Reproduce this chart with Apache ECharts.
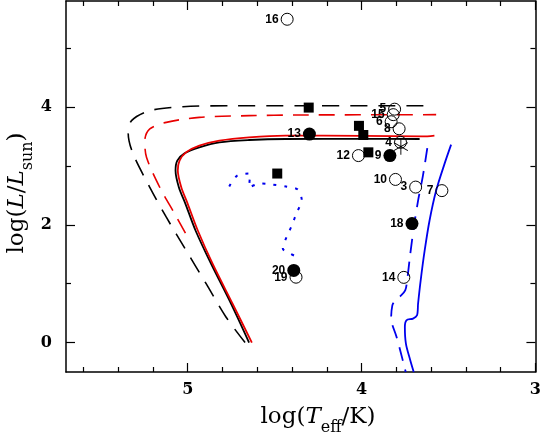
<!DOCTYPE html>
<html><head><meta charset="utf-8">
<script src="https://cdn.jsdelivr.net/npm/echarts@6/dist/echarts.min.js"></script>
<style>html,body{margin:0;padding:0;background:#fff}#c{width:544px;height:437px}</style>
</head><body><div id="c"></div>
<script>
// ---- tick values ----
const xMajor = [3, 4, 5];
const xMinor = [3.2, 3.4, 3.6, 3.8, 4.2, 4.4, 4.6, 4.8, 5.2, 5.4, 5.6];
const yMajor = [0, 2, 4];
const yMinor = [1, 3, 5];

// ---- tracks [logTeff, logL] ----
const trackBlackSolid = [[4.647,0],[4.751,0.661],[4.866,1.339],[4.955,1.903],[5.013,2.356],[5.051,2.637],[5.070,2.920],[5.060,3.090],[5.018,3.214],[4.933,3.316],[4.818,3.401],[4.647,3.440],[4.437,3.457],[4.0,3.458],[3.666,3.457]];
const trackRedSolid = [[4.631,0],[4.742,0.661],[4.857,1.339],[4.942,1.903],[5.0,2.356],[5.037,2.637],[5.057,2.920],[5.047,3.090],[5.009,3.231],[4.933,3.344],[4.818,3.429],[4.647,3.485],[4.437,3.514],[4.0,3.51],[3.65,3.50],[3.581,3.515]];
const trackBlackDashed = [[4.670,0],[4.780,0.434],[4.894,1.0],[5.009,1.564],[5.123,2.129],[5.218,2.637],[5.314,3.203],[5.342,3.542],[5.323,3.768],[5.218,3.937],[5.028,4.005],[4.742,4.022],[4.361,4.022],[3.637,4.022]];
const trackRedDashed = [[5.013,1.858],[5.075,2.186],[5.161,2.637],[5.237,3.146],[5.247,3.429],[5.218,3.627],[5.123,3.739],[4.933,3.824],[4.647,3.853],[4.361,3.864],[3.571,3.87]];
const trackBlueSolid = [[3.485,3.361],[3.523,3.034],[3.571,2.581],[3.609,2.073],[3.637,1.564],[3.660,1.056],[3.675,0.661],[3.681,0.463],[3.704,0.407],[3.742,0.378],[3.751,0.264],[3.745,-0.017],[3.720,-0.3],[3.700,-0.5]];
const trackBlueDashed = [[3.622,3.30],[3.647,2.836],[3.675,2.41],[3.698,1.988],[3.721,1.479],[3.738,1.056],[3.749,0.886],[3.778,0.785],[3.809,0.705],[3.823,0.632],[3.830,0.412],[3.800,0.107],[3.778,-0.13],[3.746,-0.5]];
const trackBlueDotted = [[4.761,2.649],[4.715,2.836],[4.641,2.870],[4.647,2.632],[4.584,2.700],[4.515,2.683],[4.435,2.649],[4.367,2.598],[4.344,2.412],[4.373,2.208],[4.401,1.988],[4.430,1.802],[4.453,1.598],[4.413,1.514],[4.350,1.429]];

// ---- stars [label, logTeff, logL] ----
const openStars = [['16',4.428,5.49],['5',3.810,3.963],['15',3.818,3.87],['6',3.830,3.75],['8',3.784,3.63],['4',3.776,3.40],['12',4.018,3.175],['10',3.805,2.77],['3',3.689,2.64],['7',3.538,2.58],['14',3.757,1.107],['19',4.377,1.11]];
const filledStars = [['13',4.30,3.54],['9',3.837,3.175],['18',3.710,2.02],['20',4.39,1.225]];
const squareStars = [[4.304,3.99],[4.015,3.68],[3.99,3.525],[3.961,3.23],[4.485,2.87]];
const asteriskStars = [[3.774,3.327]];

const serif = 'DejaVu Serif';
const sans = 'Liberation Sans';
const RED = '#e80000';
const BLUE = '#0000ee';

function xAxisDef(pos, ticks, len, showLine, showLabel) {
  return {
    type: 'value', min: 3, max: 5.7, inverse: true, position: pos,
    axisLine: { show: showLine, onZero: false, lineStyle: { color: '#000', width: 1.5 } },
    axisTick: { show: true, inside: true, length: len, customValues: ticks, lineStyle: { color: '#000', width: 1.2 } },
    axisLabel: { show: showLabel, customValues: ticks, margin: 10, fontFamily: serif, fontSize: 16, fontWeight: 'bold', color: '#000' },
    splitLine: { show: false }
  };
}
function yAxisDef(pos, ticks, len, showLine, showLabel) {
  return {
    type: 'value', min: -0.5, max: 5.8, position: pos,
    axisLine: { show: showLine, onZero: false, lineStyle: { color: '#000', width: 1.5 } },
    axisTick: { show: true, inside: true, length: len, customValues: ticks, lineStyle: { color: '#000', width: 1.2 } },
    axisLabel: { show: showLabel, customValues: ticks, margin: 14, fontFamily: serif, fontSize: 16, fontWeight: 'bold', color: '#000' },
    splitLine: { show: false }
  };
}

function lineSeries(data, color, width, type, z) {
  return {
    type: 'line', data: data, xAxisIndex: 0, yAxisIndex: 0,
    symbol: 'none', showSymbol: false, smooth: 0.3, z: z || 2,
    lineStyle: { color: color, width: width, type: type, opacity: 1 }
  };
}

const labelStyle = { show: true, position: 'left', distance: 2, formatter: '{b}', fontFamily: sans, fontWeight: 'bold', fontSize: 12, color: '#000', opacity: 1 };

const titleRich = {
  n: { fontFamily: serif, fontSize: 23, lineHeight: 38, fill: '#000' },
  i: { fontFamily: serif, fontStyle: 'italic', fontSize: 23, lineHeight: 38, fill: '#000' },
  s: { fontFamily: serif, fontSize: 16, lineHeight: 17, padding: [21, 0, 0, 0], fill: '#000' }
};

const option = {
  animation: false,
  backgroundColor: '#fff',
  grid: { left: 66, right: 6, top: 1, bottom: 65 },
  xAxis: [
    xAxisDef('bottom', xMajor, 9, true, true),
    xAxisDef('bottom', xMinor, 5, false, false),
    xAxisDef('top', xMajor, 9, true, false),
    xAxisDef('top', xMinor, 5, false, false)
  ],
  yAxis: [
    yAxisDef('left', yMajor, 9, true, true),
    yAxisDef('left', yMinor, 5, false, false),
    yAxisDef('right', yMajor, 9, true, false),
    yAxisDef('right', yMinor, 5, false, false)
  ],
  series: [
    lineSeries(trackBlackDashed, '#000', 1.6, [17, 11]),
    lineSeries(trackRedDashed, RED, 1.6, [16, 10]),
    lineSeries(trackBlackSolid, '#000', 1.8, 'solid'),
    lineSeries(trackRedSolid, RED, 1.8, 'solid'),
    lineSeries(trackBlueSolid, BLUE, 1.8, 'solid'),
    lineSeries(trackBlueDashed, BLUE, 1.8, [14, 9]),
    lineSeries(trackBlueDotted, BLUE, 2, [3, 8]),
    {
      type: 'scatter', z: 5, symbol: 'rect', symbolSize: 10,
      itemStyle: { color: '#000', opacity: 1 },
      data: squareStars
    },
    {
      type: 'scatter', z: 5, symbol: 'circle', symbolSize: 13,
      itemStyle: { color: '#000', opacity: 1 },
      label: labelStyle,
      data: filledStars.map(d => ({ name: d[0], value: [d[1], d[2]] }))
    },
    {
      type: 'scatter', z: 5, symbol: 'circle', symbolSize: 12,
      itemStyle: { color: 'rgba(255,255,255,0)', borderColor: '#000', borderWidth: 1, opacity: 1 },
      label: labelStyle,
      data: openStars.map(d => ({ name: d[0], value: [d[1], d[2]] }))
    },
    {
      type: 'scatter', z: 6,
      symbol: 'path://M0,-8L0,8M-6.93,-4L6.93,4M-6.93,4L6.93,-4',
      symbolSize: [14, 16],
      itemStyle: { color: 'none', borderColor: '#000', borderWidth: 1, opacity: 1 },
      data: asteriskStars
    }
  ],
  graphic: [
    {
      type: 'text', x: 318, y: 417,
      style: { text: '{n|log(}{i|T}{s|eff}{n|/K)}', align: 'center', verticalAlign: 'middle', rich: titleRich }
    },
    {
      type: 'text', x: 17, y: 193, rotation: Math.PI / 2,
      style: { text: '{n|log(}{i|L}{n|/}{i|L}{s|sun}{n|)}', align: 'center', verticalAlign: 'middle', rich: titleRich }
    }
  ]
};
const chart = echarts.init(document.getElementById('c'));
chart.setOption(option);
</script>
</body></html>
